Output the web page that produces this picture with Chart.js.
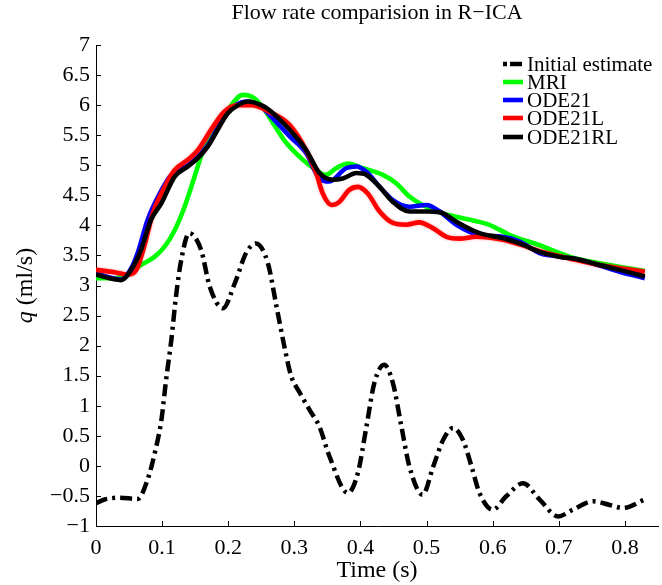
<!DOCTYPE html>
<html>
<head>
<meta charset="utf-8">
<script src="https://cdn.jsdelivr.net/npm/chart.js@4/dist/chart.umd.min.js"></script>
<style>
  html, body { margin: 0; padding: 0; background: #fff; }
  #holder { width: 662px; height: 585px; }
</style>
</head>
<body>
<div id="holder"><canvas id="graph-main"></canvas></div>
<script>
const initial_t = [0, 0.013, 0.035, 0.063, 0.078, 0.089, 0.099, 0.106, 0.114, 0.121, 0.129, 0.141, 0.159, 0.172, 0.192, 0.21, 0.227, 0.242, 0.26, 0.273, 0.285, 0.295, 0.308, 0.323, 0.338, 0.353, 0.381, 0.396, 0.409, 0.421, 0.436, 0.449, 0.462, 0.474, 0.494, 0.51, 0.525, 0.54, 0.555, 0.568, 0.58, 0.6, 0.62, 0.646, 0.671, 0.699, 0.721, 0.752, 0.777, 0.797, 0.83];
const initial_q = [-0.62, -0.56, -0.53, -0.55, -0.23, 0.22, 0.77, 1.43, 2.1, 2.82, 3.43, 3.87, 3.59, 2.98, 2.62, 3.04, 3.54, 3.70, 3.37, 2.65, 1.98, 1.5, 1.22, 0.93, 0.65, 0.16, -0.45, -0.12, 0.65, 1.38, 1.68, 1.38, 0.65, -0.01, -0.48, -0.01, 0.43, 0.63, 0.43, -0.01, -0.45, -0.73, -0.51, -0.29, -0.56, -0.84, -0.73, -0.59, -0.65, -0.70, -0.56];

const mri_t = [0, 0.028, 0.048, 0.068, 0.089, 0.104, 0.119, 0.134, 0.149, 0.164, 0.179, 0.199, 0.222, 0.24, 0.255, 0.27, 0.288, 0.313, 0.333, 0.348, 0.363, 0.381, 0.404, 0.434, 0.454, 0.474, 0.494, 0.525, 0.55, 0.575, 0.595, 0.626, 0.671, 0.716, 0.762, 0.83];
const mri_q = [3.12, 3.12, 3.2, 3.34, 3.48, 3.65, 3.92, 4.31, 4.81, 5.31, 5.64, 5.92, 6.17, 6.11, 5.92, 5.66, 5.37, 5.09, 4.92, 4.84, 4.95, 5.03, 4.95, 4.84, 4.70, 4.48, 4.34, 4.2, 4.13, 4.07, 4.01, 3.84, 3.67, 3.48, 3.37, 3.24];

const ode21_t = [0, 0.038, 0.053, 0.063, 0.078, 0.094, 0.114, 0.139, 0.154, 0.169, 0.184, 0.199, 0.227, 0.25, 0.265, 0.293, 0.318, 0.338, 0.353, 0.378, 0.394, 0.409, 0.429, 0.449, 0.474, 0.5, 0.52, 0.545, 0.58, 0.615, 0.641, 0.671, 0.701, 0.731, 0.762, 0.792, 0.83];
const ode21_q = [3.2, 3.1, 3.28, 3.54, 4.09, 4.48, 4.84, 5.0, 5.14, 5.33, 5.62, 5.88, 6.06, 5.97, 5.81, 5.48, 5.2, 4.78, 4.73, 4.95, 4.98, 4.89, 4.64, 4.42, 4.31, 4.34, 4.23, 4.01, 3.84, 3.81, 3.73, 3.54, 3.48, 3.43, 3.33, 3.23, 3.12];

const ode21l_t = [0, 0.028, 0.048, 0.061, 0.073, 0.086, 0.104, 0.119, 0.139, 0.154, 0.174, 0.194, 0.215, 0.235, 0.262, 0.293, 0.318, 0.333, 0.343, 0.356, 0.368, 0.383, 0.396, 0.411, 0.429, 0.449, 0.469, 0.489, 0.51, 0.53, 0.55, 0.575, 0.615, 0.65, 0.681, 0.716, 0.762, 0.83];
const ode21l_q = [3.26, 3.22, 3.18, 3.26, 3.65, 4.2, 4.64, 4.92, 5.09, 5.25, 5.59, 5.89, 6.0, 6.0, 5.89, 5.67, 5.25, 4.87, 4.53, 4.34, 4.39, 4.59, 4.64, 4.53, 4.23, 4.04, 4.01, 4.05, 3.95, 3.81, 3.78, 3.81, 3.76, 3.65, 3.54, 3.45, 3.34, 3.23];

const ode21rl_t = [0, 0.038, 0.053, 0.068, 0.083, 0.099, 0.119, 0.139, 0.154, 0.169, 0.184, 0.199, 0.215, 0.23, 0.25, 0.262, 0.293, 0.318, 0.338, 0.358, 0.373, 0.394, 0.409, 0.429, 0.449, 0.474, 0.504, 0.525, 0.545, 0.58, 0.615, 0.641, 0.671, 0.701, 0.731, 0.762, 0.792, 0.83];
const ode21rl_q = [3.18, 3.09, 3.26, 3.59, 4.09, 4.37, 4.81, 4.98, 5.12, 5.31, 5.59, 5.86, 6.0, 6.06, 6.0, 5.92, 5.59, 5.25, 4.87, 4.76, 4.78, 4.87, 4.84, 4.64, 4.39, 4.23, 4.23, 4.2, 4.06, 3.87, 3.79, 3.70, 3.56, 3.48, 3.43, 3.34, 3.26, 3.15];

const series_labels = ['Initial estimate', 'MRI', 'ODE21', 'ODE21L', 'ODE21RL'];
const title_text = 'Flow rate comparision in R\u2212ICA';
const x_title = 'Time (s)';

const font_name = '"Liberation Serif", "Times New Roman", serif';
const dash_dot = [12, 5, 3, 5];

function points(ts, qs) {
    return ts.map((t, i) => ({x: t, y: qs[i]}));
}

function make_set(label, ts, qs, color, order, dash) {
    return {
        label: label,
        data: points(ts, qs),
        borderColor: color,
        backgroundColor: color,
        borderWidth: dash ? 4.5 : 4.6,
        borderDash: dash || [],
        borderCapStyle: 'butt',
        pointRadius: 0,
        cubicInterpolationMode: 'monotone',
        fill: false,
        order: order
    };
}

const datasets = [
    make_set(series_labels[0], initial_t, initial_q, '#000000', 0, dash_dot),
    make_set(series_labels[1], mri_t, mri_q, '#00ff00', 4),
    make_set(series_labels[2], ode21_t, ode21_q, '#0000ff', 3),
    make_set(series_labels[3], ode21l_t, ode21l_q, '#ff0000', 2),
    make_set(series_labels[4], ode21rl_t, ode21rl_q, '#000000', 1)
];
// soft pink edge seen round the red curve
datasets[3].segment = {};
datasets[3].borderJoinStyle = 'round';

const fmt = (v) => String(Number(v.toFixed(2))).replace('-', '\u2212');

// faint halo under the red line
const red_halo = {
    id: 'red_halo',
    beforeDatasetDraw(chart, args) {
        if (args.index !== 3) return;
        const ctx = chart.ctx;
        ctx.save();
        ctx.shadowColor = 'rgba(255,0,0,0.35)';
        ctx.shadowBlur = 3;
    },
    afterDatasetDraw(chart, args) {
        if (args.index !== 3) return;
        chart.ctx.restore();
    }
};

// title, axis labels, inner tick marks and the legend box
const decorations = {
    id: 'decorations',
    afterDraw(chart) {
        const ctx = chart.ctx;
        const area = chart.chartArea;
        const xs = chart.scales.x;
        const ys = chart.scales.y;
        ctx.save();
        ctx.strokeStyle = '#000';
        ctx.lineWidth = 1;
        ctx.beginPath();
        for (let tk of xs.ticks) {
            const px = Math.round(xs.getPixelForValue(tk.value)) + 0.5;
            ctx.moveTo(px, area.bottom);
            ctx.lineTo(px, area.bottom - 5);
        }
        for (let tk of ys.ticks) {
            const py = Math.round(ys.getPixelForValue(tk.value)) + 0.5;
            ctx.moveTo(area.left, py);
            ctx.lineTo(area.left + 5, py);
        }
        ctx.stroke();

        ctx.fillStyle = '#000';
        ctx.textBaseline = 'middle';
        ctx.textAlign = 'center';
        ctx.font = `22px ${font_name}`;
        ctx.fillText(title_text, (area.left + area.right) / 2, 13);

        ctx.font = `24px ${font_name}`;
        ctx.fillText(x_title, (area.left + area.right) / 2, 571);

        // y label with italic q
        ctx.save();
        ctx.translate(26, (area.top + area.bottom) / 2);
        ctx.rotate(-Math.PI / 2);
        ctx.textAlign = 'left';
        ctx.font = `italic 24px ${font_name}`;
        const q_w = ctx.measureText('q').width;
        ctx.font = `24px ${font_name}`;
        const rest = ' (ml/s)';
        const rest_w = ctx.measureText(rest).width;
        const start = -(q_w + rest_w) / 2;
        ctx.font = `italic 24px ${font_name}`;
        ctx.fillText('q', start, 0);
        ctx.font = `24px ${font_name}`;
        ctx.fillText(rest, start + q_w, 0);
        ctx.restore();

        // legend
        const rows = [64, 82, 100, 118, 137];
        ctx.textAlign = 'left';
        ctx.font = `21px ${font_name}`;
        chart.data.datasets.forEach((ds, i) => {
            const y = rows[i];
            ctx.beginPath();
            ctx.setLineDash(ds.borderDash.length ? [4, 3, 12, 2] : []);
            ctx.lineWidth = ds.borderWidth;
            ctx.strokeStyle = ds.borderColor;
            ctx.moveTo(503, y);
            ctx.lineTo(523, y);
            ctx.stroke();
            ctx.setLineDash([]);
            ctx.fillStyle = '#000';
            ctx.fillText(ds.label, 527, y + 1);
        });
        ctx.restore();
    }
};

const ctx = document.getElementById('graph-main').getContext('2d');
const my_chart = new Chart(ctx, {
    type: 'line',
    data: {datasets: datasets},
    options: {
        responsive: true,
        maintainAspectRatio: false,
        animation: false,
        layout: {padding: {top: 45, right: 4, left: 0, bottom: 0}},
        plugins: {
            legend: {display: false},
            title: {display: false},
            tooltip: {enabled: false}
        },
        scales: {
            x: {
                type: 'linear',
                min: 0,
                max: 0.85,
                afterFit: (scale) => { scale.height = 59; },
                grid: {display: false, drawTicks: false},
                border: {display: true, color: '#000', width: 1},
                ticks: {
                    stepSize: 0.1,
                    includeBounds: false,
                    padding: 9,
                    color: '#000',
                    maxRotation: 0,
                    font: {family: font_name, size: 22},
                    callback: (v) => fmt(v)
                }
            },
            y: {
                type: 'linear',
                min: -1,
                max: 7,
                afterFit: (scale) => { scale.width = 96; },
                grid: {display: false, drawTicks: false},
                border: {display: true, color: '#000', width: 1},
                ticks: {
                    stepSize: 0.5,
                    padding: 6,
                    color: '#000',
                    font: {family: font_name, size: 22},
                    callback: (v) => fmt(v)
                }
            }
        }
    },
    plugins: [red_halo, decorations]
});
</script>
</body>
</html>
